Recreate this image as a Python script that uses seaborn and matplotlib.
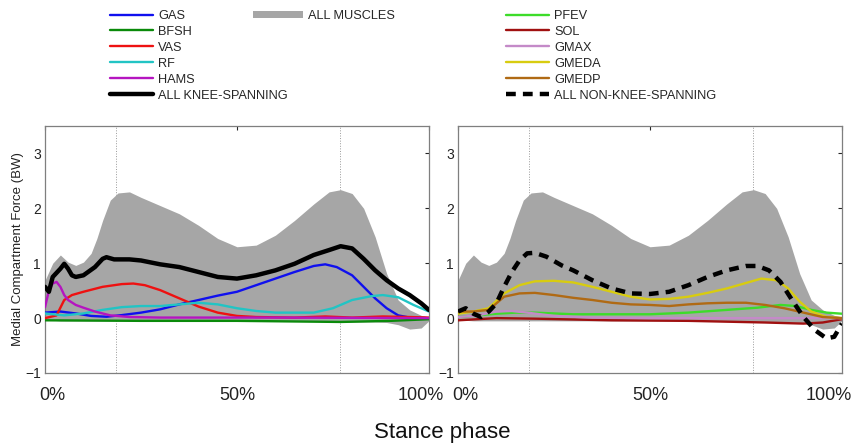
import numpy as np
import seaborn as sns
import matplotlib
matplotlib.use('Agg')
import matplotlib.pyplot as plt
from matplotlib.lines import Line2D
from matplotlib.patches import Patch
from matplotlib.transforms import ScaledTranslation

# ALL MUSCLES band (same in both panels)
band_x = [0, 2, 4, 6, 8, 10, 12, 13.5, 15, 17, 19, 22, 25, 30, 35, 40, 45, 50, 55, 60,
          65, 70, 74, 77, 80, 83, 86, 89, 92, 95, 98, 100]
band_hi = [0.69, 1.0, 1.15, 1.02, 0.96, 1.02, 1.18, 1.45, 1.78, 2.15, 2.28, 2.3, 2.2,
           2.05, 1.9, 1.69, 1.45, 1.3, 1.33, 1.51, 1.78, 2.08, 2.3, 2.34, 2.27, 2.0,
           1.48, 0.81, 0.33, 0.15, 0.05, 0.02]
band_lo = [-0.02, -0.04, -0.05, -0.05, -0.05, -0.05, -0.05, -0.05, -0.05, -0.05, -0.05,
           -0.05, -0.05, -0.05, -0.05, -0.05, -0.05, -0.05, -0.05, -0.05, -0.06, -0.06,
           -0.07, -0.07, -0.07, -0.07, -0.07, -0.08, -0.12, -0.2, -0.18, -0.05]

# knee-spanning muscles (left panel)
knee_x = [0, 1, 2, 4, 5, 6, 7, 8, 10, 13, 15, 16, 18, 22, 25, 30, 35, 40, 45, 50, 55,
          60, 65, 70, 74, 77, 80, 83, 86, 89, 92, 95, 98, 100]
knee_all = [0.57, 0.48, 0.75, 0.9, 0.99, 0.9, 0.78, 0.75, 0.78, 0.93, 1.08, 1.11, 1.07,
            1.07, 1.05, 0.98, 0.93, 0.84, 0.75, 0.72, 0.78, 0.87, 0.99, 1.15, 1.24, 1.31,
            1.27, 1.08, 0.87, 0.69, 0.54, 0.42, 0.27, 0.15]

gas_x = [0, 4, 8, 12, 16, 20, 25, 30, 35, 40, 45, 50, 55, 60, 65, 70, 73, 76, 80, 83,
         86, 89, 92, 95, 100]
gas = [0.1, 0.12, 0.085, 0.04, 0.025, 0.055, 0.1, 0.16, 0.25, 0.33, 0.41, 0.48, 0.6,
       0.72, 0.84, 0.95, 0.98, 0.93, 0.78, 0.57, 0.36, 0.18, 0.05, 0.01, 0.0]

bfsh_x = [0, 25, 50, 77, 90, 100]
bfsh = [-0.04, -0.05, -0.05, -0.07, -0.05, -0.02]

vas_x = [0, 3, 5, 7, 10, 15, 20, 23, 26, 30, 35, 40, 45, 50, 55, 65, 73, 80, 88, 95, 100]
vas = [0.0, 0.05, 0.33, 0.42, 0.48, 0.57, 0.62, 0.63, 0.6, 0.51, 0.36, 0.21, 0.1, 0.04,
       0.02, 0.01, 0.03, 0.01, 0.03, 0.02, 0.01]

rf_x = [0, 5, 10, 15, 20, 25, 30, 35, 40, 45, 50, 55, 60, 65, 70, 75, 80, 85, 88, 92,
        96, 100]
rf = [0.085, 0.05, 0.085, 0.15, 0.2, 0.22, 0.22, 0.25, 0.28, 0.25, 0.18, 0.13, 0.1,
      0.1, 0.1, 0.18, 0.33, 0.4, 0.42, 0.38, 0.24, 0.12]

hams_x = [0, 1, 2, 3, 4, 5, 6, 8, 10, 13, 17, 22, 30, 60, 100]
hams = [0.2, 0.5, 0.63, 0.66, 0.57, 0.42, 0.33, 0.24, 0.19, 0.12, 0.05, 0.02, 0.01,
        0.01, 0.0]

# non-knee-spanning muscles (right panel)
nonknee_x = [0, 2, 4, 6, 8, 10, 12, 14, 16, 18, 20, 23, 27, 30, 35, 40, 45, 50, 55, 60,
             65, 70, 75, 78, 81, 84, 87, 90, 93, 96, 98, 100]
nonknee_all = [0.12, 0.18, 0.08, 0.02, 0.12, 0.27, 0.57, 0.84, 1.05, 1.18, 1.19, 1.12,
               0.96, 0.87, 0.69, 0.54, 0.45, 0.44, 0.48, 0.6, 0.75, 0.87, 0.95, 0.95,
               0.87, 0.66, 0.33, 0.02, -0.22, -0.37, -0.34, -0.1]

gmeda_x = [0, 4, 8, 12, 16, 20, 25, 30, 35, 40, 45, 50, 55, 60, 65, 70, 75, 79, 83,
           86, 89, 92, 96, 100]
gmeda = [0.08, 0.12, 0.18, 0.45, 0.6, 0.67, 0.68, 0.65, 0.57, 0.48, 0.39, 0.34, 0.35,
         0.39, 0.46, 0.54, 0.64, 0.72, 0.69, 0.54, 0.3, 0.12, 0.02, 0.0]

gmedp_x = [0, 4, 8, 12, 16, 20, 25, 30, 35, 40, 45, 50, 55, 60, 65, 70, 75, 80, 85,
           90, 95, 100]
gmedp = [0.12, 0.12, 0.15, 0.39, 0.45, 0.46, 0.42, 0.37, 0.33, 0.28, 0.25, 0.24, 0.22,
         0.25, 0.27, 0.28, 0.28, 0.24, 0.18, 0.1, 0.02, 0.0]

pfev_x = [0, 5, 10, 15, 20, 30, 40, 50, 60, 70, 78, 84, 88, 92, 96, 100]
pfev = [0.02, 0.05, 0.08, 0.1, 0.1, 0.07, 0.07, 0.07, 0.1, 0.15, 0.19, 0.24, 0.22,
        0.15, 0.1, 0.08]

gmax_x = [0, 5, 10, 14, 18, 25, 35, 50, 100]
gmax = [0.02, 0.05, 0.12, 0.13, 0.1, 0.04, 0.01, 0.0, 0.0]

sol_x = [0, 10, 20, 40, 60, 80, 90, 95, 100]
sol = [-0.04, 0.0, -0.01, -0.04, -0.05, -0.08, -0.1, -0.08, -0.02]

events = [18.5, 76.8]

sns.set_style('white')
plt.rcParams['font.family'] = ['Liberation Sans', 'DejaVu Sans']

fig = plt.figure(figsize=(8.53, 4.45), dpi=100)
ax1 = fig.add_axes([0.0528, 0.1618, 0.450, 0.555])
ax2 = fig.add_axes([0.537, 0.1618, 0.450, 0.555])

band_color = '#a6a6a6'
left_series = [
    ('GAS', gas_x, gas, '#1010ee'),
    ('BFSH', bfsh_x, bfsh, '#0a8a0a'),
    ('VAS', vas_x, vas, '#ee1111'),
    ('RF', rf_x, rf, '#22c4c4'),
    ('HAMS', hams_x, hams, '#b515c0'),
]
right_series = [
    ('PFEV', pfev_x, pfev, '#3ddc2a'),
    ('SOL', sol_x, sol, '#a01010'),
    ('GMAX', gmax_x, gmax, '#c48ac8'),
    ('GMEDA', gmeda_x, gmeda, '#d8cc10'),
    ('GMEDP', gmedp_x, gmedp, '#b06a14'),
]

for ax in (ax1, ax2):
    ax.fill_between(band_x, band_lo, band_hi, color=band_color, lw=0, zorder=1)
    for ev in events:
        ax.axvline(ev, color='#999999', lw=0.7, ls=':', zorder=0.5)

for name, xs, ys, c in left_series:
    sns.lineplot(x=xs, y=ys, ax=ax1, color=c, lw=1.7, zorder=3)
sns.lineplot(x=knee_x, y=knee_all, ax=ax1, color='black', lw=3.2, zorder=4)

for name, xs, ys, c in right_series:
    sns.lineplot(x=xs, y=ys, ax=ax2, color=c, lw=1.7, zorder=3)
sns.lineplot(x=nonknee_x, y=nonknee_all, ax=ax2, color='black', lw=3.2,
             dashes=(2.2, 1.6), zorder=4)

for ax, shift in ((ax1, -0.08), (ax2, -0.13)):
    ax.set_xlim(0, 100)
    ax.set_ylim(-1, 3.5)
    ax.set_yticks([-1, 0, 1, 2, 3])
    ax.set_xticks([0, 50, 100])
    ax.set_xticklabels(['0%', '50%', '100%'], fontsize=13, color='#222222')
    ax.tick_params(axis='x', direction='in', top=True, length=3, pad=10)
    ax.tick_params(axis='y', direction='in', right=True, length=3, labelsize=10,
                   labelcolor='#222222', pad=3)
    for s in ax.spines.values():
        s.set_color('#7f7f7f')
        s.set_linewidth(0.9)
    labs = ax.get_xticklabels()
    labs[0].set_transform(labs[0].get_transform() + ScaledTranslation(0.07, 0, fig.dpi_scale_trans))
    labs[2].set_transform(labs[2].get_transform() + ScaledTranslation(shift, 0, fig.dpi_scale_trans))

ax1.set_ylabel('Medial Compartment Force (BW)', fontsize=9.5, color='#222222', labelpad=1)
fig.text(0.519, 0.027, 'Stance phase', ha='center', va='center', fontsize=16, color='#111111')

# legends
h_left = [Line2D([], [], color=c, lw=1.7) for _, _, _, c in left_series]
h_left.append(Line2D([], [], color='black', lw=3.2))
l_left = [n for n, _, _, _ in left_series] + ['ALL KNEE-SPANNING']
h_right = [Line2D([], [], color=c, lw=1.7) for _, _, _, c in right_series]
h_right.append(Line2D([], [], color='black', lw=3.2, dashes=(2.2, 1.6)))
l_right = [n for n, _, _, _ in right_series] + ['ALL NON-KNEE-SPANNING']

leg_kw = dict(frameon=False, fontsize=9.2, handlelength=3.35, handletextpad=0.4,
              labelspacing=0.31, borderpad=0, borderaxespad=0)
top = 1 - 10 / 445
fig.legend(h_left, l_left, loc='upper left', bbox_to_anchor=(110 / 853, top), **leg_kw)
fig.legend(h_right, l_right, loc='upper left', bbox_to_anchor=(506 / 853, top), **leg_kw)
fig.legend([Patch(facecolor=band_color, edgecolor='none')], ['ALL MUSCLES'],
           loc='upper left', bbox_to_anchor=(253 / 853, top),
           handleheight=0.45, **dict(leg_kw, handlelength=3.9))

fig.savefig('out.png', dpi=100)
